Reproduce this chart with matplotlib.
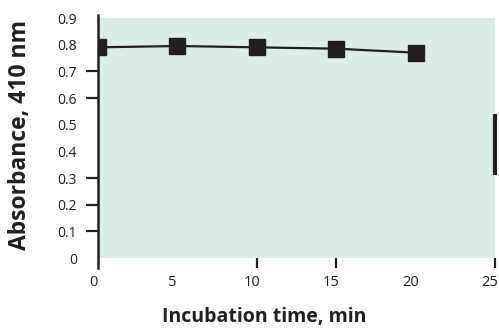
import matplotlib
matplotlib.use("Agg")
import matplotlib.pyplot as plt
from matplotlib.patches import Rectangle
from matplotlib.transforms import ScaledTranslation

# Data
time_min = [0, 5, 10, 15, 20]
absorbance = [0.79, 0.795, 0.79, 0.785, 0.77]
x_ticks = [0, 5, 10, 15, 20, 25]
x_tick_labels = ["0", "5", "10", "15", "20", "25"]
y_ticks = [0, 0.1, 0.2, 0.3, 0.4, 0.5, 0.6, 0.7, 0.8, 0.9]
y_tick_labels = ["0", "0.1", "0.2", "0.3", "0.4", "0.5", "0.6", "0.7", "0.8", "0.9"]
y_ticks_marked = [0.1, 0.2, 0.3, 0.6, 0.7]
x_ticks_marked = [10, 15, 25]
edge_bar_x = 25
edge_bar_y = [0.31, 0.54]

ink = "#231f20"
green = "#dbede6"
font = "Open Sans"

fig = plt.figure(figsize=(4.99, 3.28), dpi=100)
W, H = 499, 328
x0, x1 = 98, 495
ytop_px, ybot_px = 15, 268
ax = fig.add_axes([x0 / W, (H - ybot_px) / H, (x1 - x0) / W, (ybot_px - ytop_px) / H])

px_per_unit = (258 - 18) / 0.9
ymin = -(ybot_px - 258) / px_per_unit
ymax = 0.9 + (18 - ytop_px) / px_per_unit
ax.set_xlim(0, 25)
ax.set_ylim(ymin, ymax)
ax.set_facecolor("none")
ax.add_patch(Rectangle((0, 0), 25, 0.9, facecolor=green, edgecolor="none", zorder=0))

for s in ["top", "right", "bottom"]:
    ax.spines[s].set_visible(False)
ax.spines["left"].set_color(ink)
ax.spines["left"].set_linewidth(1.8)

ax.plot(time_min, absorbance, color=ink, lw=1.6, marker="s", ms=11.5, zorder=3)
ax.plot([edge_bar_x, edge_bar_x], edge_bar_y, color=ink, lw=3.0, clip_on=False,
        solid_capstyle="butt", zorder=3)

ax.set_yticks(y_ticks)
ax.set_yticklabels(y_tick_labels, fontsize=10, family=font, color=ink)
ax.tick_params(axis="y", direction="out", length=8.5, width=1.6, color=ink, pad=6.5)
for t, v in zip(ax.yaxis.get_major_ticks(), y_ticks):
    if v not in y_ticks_marked:
        t.tick1line.set_visible(False)

ax.set_xticks(x_ticks)
ax.set_xticklabels(x_tick_labels, fontsize=10.5, family=font, color=ink)
ax.tick_params(axis="x", direction="in", length=7, width=1.6, color=ink, pad=5)
for t, v in zip(ax.xaxis.get_major_ticks(), x_ticks):
    if v not in x_ticks_marked:
        t.tick1line.set_visible(False)
shift = ScaledTranslation(-5 / 100, 0, fig.dpi_scale_trans)
for lab in ax.get_xticklabels():
    lab.set_transform(lab.get_transform() + shift)

fig.text(264 / W, 1 - 317 / H, "Incubation time, min", ha="center", va="center",
         fontsize=14, fontweight="bold", family=font, color=ink)
fig.text(20 / W, 1 - 135 / H, "Absorbance, 410 nm", ha="center", va="center",
         rotation=90, fontsize=16.5, fontweight="bold", family=font, color=ink)

fig.savefig("out.png", dpi=100)
